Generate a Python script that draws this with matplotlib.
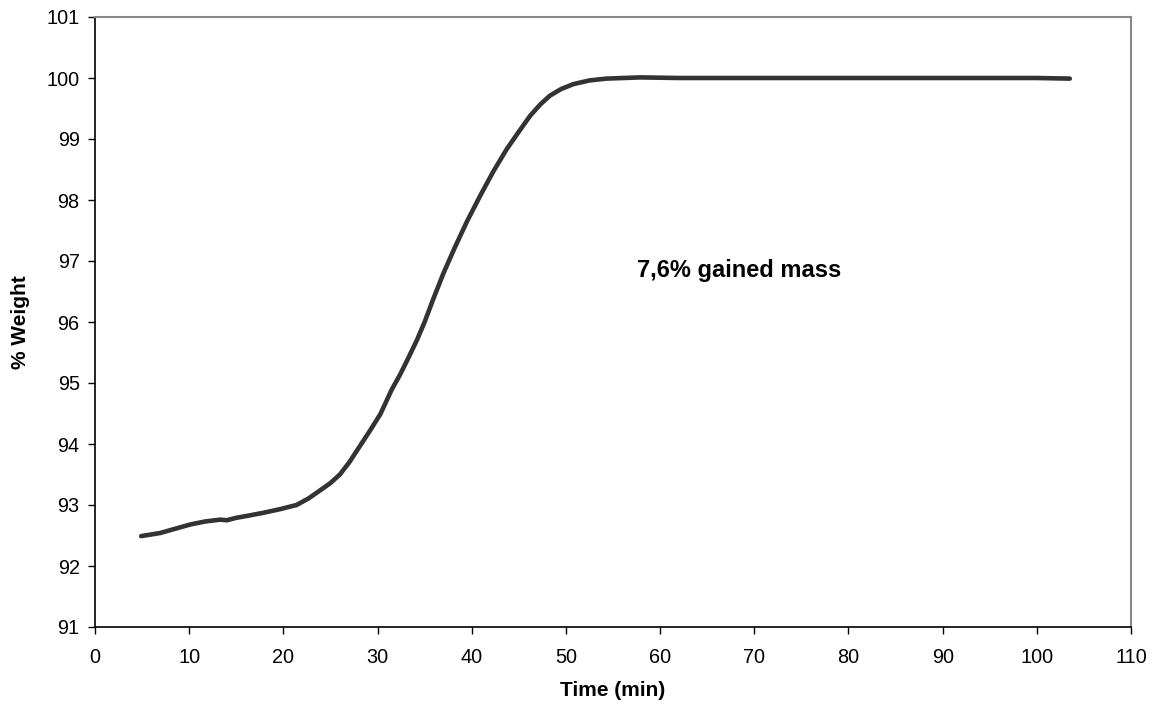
import matplotlib
matplotlib.use("Agg")
import matplotlib.pyplot as plt

time_min = [4.9, 6.9, 8.5, 10.1, 11.7, 13.3, 14.0, 15.0, 16.1, 17.8, 19.6, 21.4,
            22.7, 23.9, 25.0, 26.0, 27.0, 28.1, 29.2, 30.3, 31.5, 32.4, 33.3,
            34.2, 35.0, 35.9, 37.0, 38.2, 39.5, 40.9, 42.3, 43.7, 45.0, 46.2,
            47.3, 48.3, 49.5, 50.8, 52.5, 54.3, 57.9, 62.0, 70.0, 80.0, 90.0,
            100.0, 103.5]
weight_pct = [92.49, 92.54, 92.61, 92.68, 92.73, 92.76, 92.75, 92.79, 92.82, 92.87, 92.93, 93.00,
              93.11, 93.24, 93.36, 93.50, 93.70, 93.96, 94.22, 94.49, 94.89, 95.14, 95.42,
              95.71, 96.00, 96.37, 96.80, 97.22, 97.65, 98.07, 98.47, 98.83, 99.12, 99.38,
              99.57, 99.71, 99.82, 99.90, 99.96, 99.99, 100.01, 100.0, 100.0, 100.0, 100.0,
              100.0, 99.99]

x_ticks = list(range(0, 111, 10))
y_ticks = list(range(91, 102))

plt.rcParams['font.family'] = ['Liberation Sans', 'DejaVu Sans']
fig = plt.figure(figsize=(11.56, 7.07), dpi=100)
ax = fig.add_axes([95/1156, 1 - 627/707, (1131-95)/1156, (627-17)/707])

ax.plot(time_min, weight_pct, color='#333333', lw=3.3, solid_capstyle='round',
        solid_joinstyle='round')

ax.set_xlim(0, 110)
ax.set_ylim(91, 101)
ax.set_xticks(x_ticks)
ax.set_yticks(y_ticks)
ax.tick_params(axis='both', direction='out', length=5, width=1, labelsize=14.3,
               colors='black')
ax.tick_params(axis='x', pad=10)
ax.tick_params(axis='y', pad=6)
for s in ['left', 'bottom']:
    ax.spines[s].set_color('black')
    ax.spines[s].set_linewidth(1.2)
for s in ['top', 'right']:
    ax.spines[s].set_color('#888888')
    ax.spines[s].set_linewidth(1.5)

ax.set_xlabel('Time (min)', fontsize=15, fontweight='bold', labelpad=10)
ax.set_ylabel('% Weight', fontsize=15, fontweight='bold', labelpad=12)

ax.text(68.4, 96.85, '7,6% gained mass', fontsize=17, fontweight='bold',
        ha='center', va='center')

fig.savefig('out.png', dpi=100)
